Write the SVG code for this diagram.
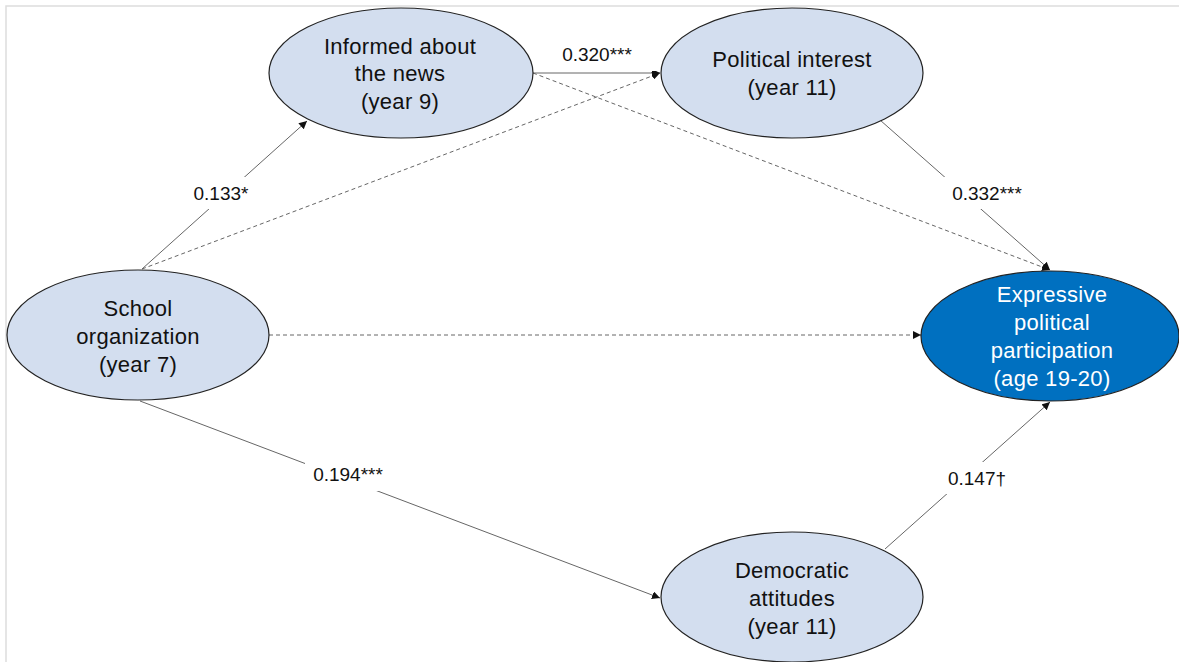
<svg xmlns="http://www.w3.org/2000/svg" width="1179" height="662" viewBox="0 0 1179 662">
<style>
.n{fill:#D3DEEF;stroke:#222;stroke-width:1.2}
.t{font-family:"Liberation Sans",Arial,sans-serif;font-size:22px;letter-spacing:0.3px;fill:#111;text-anchor:middle}
.wt{fill:#fff}
.w{fill:#fff}
.lab{font-family:"Liberation Sans",Arial,sans-serif;font-size:19px;fill:#111;text-anchor:middle}
.s{stroke:#666;stroke-width:1;fill:none}
.d{stroke:#666;stroke-width:1;fill:none;stroke-dasharray:4,3}
</style>
<defs>
<marker id="a" viewBox="0 0 10 10" refX="10" refY="5" markerWidth="8" markerHeight="8" markerUnits="userSpaceOnUse" orient="auto"><path d="M0,0 L10,5 L0,10 z" fill="#111"/></marker>
</defs>
<rect x="0" y="0" width="1179" height="662" fill="#fff"/>
<rect x="6" y="6" width="1180" height="670" fill="none" stroke="#ddd" stroke-width="1.5"/>
<g id="connectors">
<line class="s" x1="142" y1="269" x2="307" y2="121" marker-end="url(#a)"/>
<line class="d" x1="142" y1="269" x2="660" y2="73" marker-end="url(#a)"/>
<line class="s" x1="533" y1="73" x2="660" y2="73" marker-end="url(#a)"/>
<line class="d" x1="533" y1="73" x2="1050" y2="270" marker-end="url(#a)"/>
<line class="s" x1="880" y1="120" x2="1050" y2="270" marker-end="url(#a)"/>
<line class="d" x1="269" y1="335" x2="921" y2="335" marker-end="url(#a)"/>
<line class="s" x1="140" y1="401" x2="660" y2="598" marker-end="url(#a)"/>
<line class="s" x1="885" y1="549" x2="1050" y2="402" marker-end="url(#a)"/>
<rect class="w" x="181" y="177" width="80" height="32"/>
<text class="lab" x="221" y="200">0.133*</text>
<rect class="w" x="551" y="38" width="114" height="33"/>
<text class="lab" x="597" y="61">0.320***</text>
<rect class="w" x="944" y="177" width="86" height="32"/>
<text class="lab" x="987" y="200">0.332***</text>
<rect class="w" x="305" y="459" width="86" height="32"/>
<text class="lab" x="348" y="481">0.194***</text>
<rect class="w" x="940" y="462" width="76" height="32"/>
<text class="lab" x="977" y="485">0.147†</text>
</g>
<g id="informed">
<ellipse class="n" cx="401" cy="73" rx="132" ry="65"/>
<text class="t" x="400" y="54">Informed about</text>
<text class="t" x="400" y="81">the news</text>
<text class="t" x="400" y="109">(year 9)</text>
</g>
<g id="interest">
<ellipse class="n" cx="792" cy="73" rx="131" ry="65"/>
<text class="t" x="792" y="67">Political interest</text>
<text class="t" x="792" y="95">(year 11)</text>
</g>
<g id="school">
<ellipse class="n" cx="138" cy="335" rx="131" ry="65"/>
<text class="t" x="138" y="316">School</text>
<text class="t" x="138" y="344">organization</text>
<text class="t" x="138" y="372">(year 7)</text>
</g>
<g id="expressive">
<ellipse cx="1050" cy="336" rx="129" ry="65" fill="#0070C0" stroke="#222" stroke-width="1.2"/>
<text class="t wt" x="1052" y="302" style="fill:#fff">Expressive</text>
<text class="t wt" x="1052" y="330" style="fill:#fff">political</text>
<text class="t wt" x="1052" y="358" style="fill:#fff">participation</text>
<text class="t wt" x="1052" y="386" style="fill:#fff">(age 19-20)</text>
</g>
<g id="democratic">
<ellipse class="n" cx="792" cy="597" rx="131" ry="65"/>
<text class="t" x="792" y="578">Democratic</text>
<text class="t" x="792" y="606">attitudes</text>
<text class="t" x="792" y="634">(year 11)</text>
</g>
</svg>
